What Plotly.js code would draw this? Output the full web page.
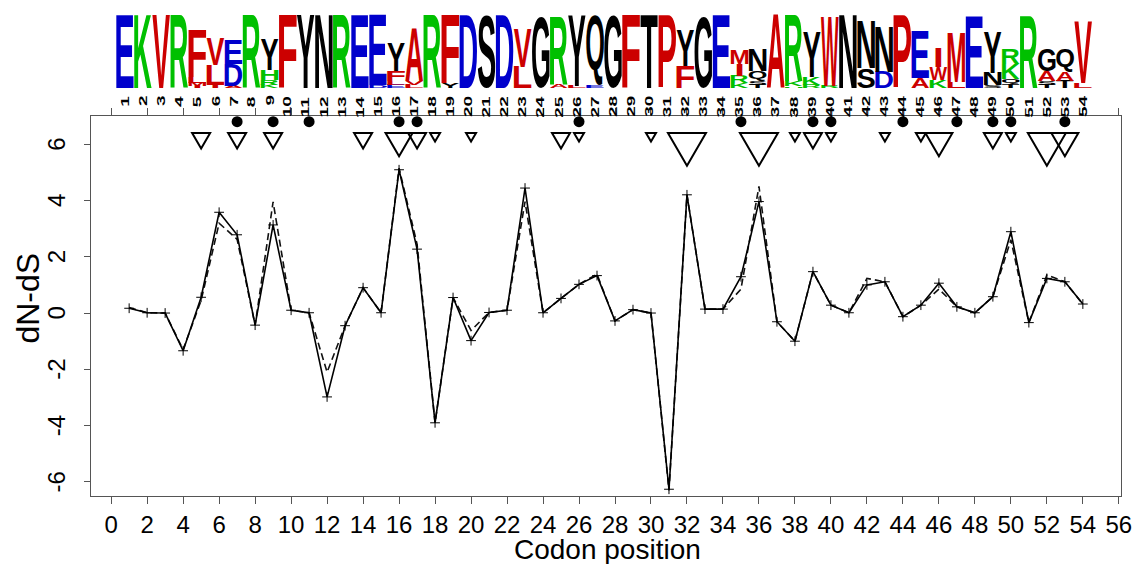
<!DOCTYPE html>
<html><head><meta charset="utf-8">
<script src="https://cdn.plot.ly/plotly-3.0.1.min.js"></script>
<style>html,body{margin:0;padding:0;background:#fff}#plot{width:1136px;height:564px}</style>
</head><body><div id="plot"></div>
<script>
// ---------------- data ----------------
const codons = [1,2,3,4,5,6,7,8,9,10,11,12,13,14,15,16,17,18,19,20,21,22,23,24,25,26,27,28,29,30,31,32,33,34,35,36,37,38,39,40,41,42,43,44,45,46,47,48,49,50,51,52,53,54];
const dnds = [0.17,0.01,0.0,-1.34,0.56,3.58,2.78,-0.43,3.13,0.10,0.01,-2.98,-0.45,0.90,0.01,5.09,2.27,-3.90,0.55,-0.98,0.02,0.10,4.44,0.01,0.52,1.02,1.33,-0.28,0.12,0.0,-6.26,4.20,0.14,0.14,1.29,3.96,-0.31,-1.00,1.47,0.28,0.01,1.00,1.11,-0.13,0.28,1.06,0.22,0.01,0.58,2.89,-0.34,1.23,1.11,0.32];
const dndsAlt = [0.20,0.01,0.0,-1.30,0.45,3.19,2.62,-0.43,3.95,0.10,0.01,-2.10,-0.45,0.90,0.01,5.15,2.45,-3.90,0.55,-0.62,0.02,0.10,3.96,0.01,0.52,1.02,1.38,-0.28,0.12,0.0,-6.30,4.20,0.14,0.14,0.85,4.50,-0.31,-1.00,1.47,0.28,0.01,1.23,1.11,-0.13,0.28,0.85,0.22,0.01,0.58,2.60,-0.34,1.35,1.11,0.32];
const selectedSites = [7,9,11,16,17,26,35,39,40,44,47,49,50,53];
const triSites  = [5,7,9,14,16,17,18,20,25,26,30,32,36,38,39,40,43,45,46,49,50,52,53];
const triLevels = [2,2,2,2,3,2,1,1,2,1,1,4,4,1,2,1,1,1,3,2,1,4,3];
const xTickVals = [0,2,4,6,8,10,12,14,16,18,20,22,24,26,28,30,32,34,36,38,40,42,44,46,48,50,52,54,56];
const yTickVals = [-6,-4,-2,0,2,4,6];
const xTitle = 'Codon position', yTitle = 'dN-dS';
// sequence logo: letters bottom -> top, heights in bits
const logoLetters = ["E","K","V","R","IMLF","ILV","ADE","R","KRHY","F","Y","N","R","E","DE","ELFY","LVA","R","YF","D","S","D","LV","G","AR","LY","EQ","G","F","T","P","FY","G","E","KRIM","TSQN","A","HKR","RKY","RW","N","SN","DN","P","AE","KWI","LM","E","SNY","TQKR","R","TSAG","TAQ","LV"];
const logoBits = [[4.32],[4.32],[4.32],[4.32],[0.12,0.18,0.36,2.78],[0.18,1.18,1.6],[0.12,1.3,1.42],[4.32],[0.18,0.3,0.59,1.78],[4.32],[4.32],[4.32],[4.32],[4.32],[0.15,4.14],[0.18,0.24,0.59,1.66],[0.18,0.24,3.1],[4.32],[0.3,3.96],[4.32],[4.32],[4.32],[1.24,2.25],[4.2],[0.18,4.02],[0.12,4.14],[0.12,4.14],[4.32],[4.32],[4.32],[4.32],[1.3,2.13],[4.2],[4.32],[0.3,0.42,0.7,0.8],[0.18,0.24,0.59,1.3],[4.32],[0.1,0.3,3.95],[0.18,0.47,2.6],[0.12,4.08],[4.32],[1.18,2.78],[0.95,2.66],[4.32],[0.59,2.78],[0.47,0.77,1.12],[0.36,2.9],[4.26],[0.15,0.71,2.43],[0.24,0.3,0.89,0.89],[4.2],[0.18,0.24,0.59,1.3],[0.41,0.53,1.42],[0.3,3.6]];

// ---------------- styles ----------------
const FONT = '"Liberation Sans", Arial, sans-serif';
const AXC = '#555';
const letterColor = ch => ('DE'.includes(ch) ? '#0000CC' : 'KRH'.includes(ch) ? '#00C000' : 'AFILMPVWC'.includes(ch) ? '#CC0000' : '#000000');
const DOT_Y = 6.8, TRI_TOP = 6.4;
const triWidthPx = {1: 10, 2: 18, 3: 27, 4: 38};
const LETTER_FONT = 80;
const CODON_LABEL_STRETCH = 1.65;

const traces = [
  {x: codons, y: dndsAlt, mode: 'lines', line: {color: '#111', width: 1.6, dash: '7px,4px'}, hoverinfo: 'skip'},
  {x: codons, y: dnds, mode: 'lines+markers', line: {color: '#000', width: 1.6},
   marker: {symbol: 'cross-thin-open', size: 7, line: {width: 1, color: '#666'}}, hoverinfo: 'skip'},
  {x: selectedSites, y: selectedSites.map(() => DOT_Y), mode: 'markers', marker: {symbol: 'circle', size: 11, color: '#000'}, cliponaxis: false, hoverinfo: 'skip'},
  {x: codons, y: codons.map(() => 0), xaxis: 'x2', yaxis: 'y2', mode: 'markers', marker: {opacity: 0}, hoverinfo: 'skip'}
];

const shapes = triSites.map((s, i) => {
  const hw = triWidthPx[triLevels[i]] / 2, h = hw * Math.sqrt(3);
  return {type: 'path', xref: 'x', yref: 'y', xsizemode: 'pixel', ysizemode: 'pixel', xanchor: s, yanchor: TRI_TOP,
          path: `M${-hw},0 L${hw},0 L0,${-h} Z`, line: {color: '#000', width: 2}, layer: 'above'};
});

const annotations = [];
const letterMeta = [];   // logo letters (stretched to their cells)
const labelIdx = new Set(); // codon labels (stretched along the text)
logoLetters.forEach((stack, i) => {
  let y0 = 0;
  stack.split('').forEach((ch, j) => {
    const h = logoBits[i][j];
    letterMeta[annotations.length] = {ch, x: codons[i], y0, y1: y0 + h};
    annotations.push({xref: 'x2', yref: 'y2', x: codons[i], y: y0, text: ch, showarrow: false,
      xanchor: 'center', yanchor: 'bottom', borderpad: 0,
      font: {family: '"Liberation Sans"', size: LETTER_FONT, weight: 'bold', color: letterColor(ch)}});
    y0 += h;
  });
});
codons.forEach(c => {
  labelIdx.add(annotations.length);
  annotations.push({xref: 'x2', yref: 'y2', x: c, y: -0.40, text: String(c), textangle: -90,
    showarrow: false, xanchor: 'center', yanchor: 'top', borderpad: 0, font: {family: FONT, size: 11.5, weight: 'bold', color: '#000'}});
});
// y tick labels (rotated, R style)
yTickVals.forEach(v => annotations.push({xref: 'paper', yref: 'y', x: -0.0335, y: v, text: String(v), textangle: -90,
  showarrow: false, xanchor: 'center', yanchor: 'middle', borderpad: 0, font: {family: FONT, size: 24, color: '#000'}}));
// axis titles
annotations.push({xref: 'paper', yref: 'paper', x: 0.5015, y: -0.108, text: xTitle, showarrow: false,
  xanchor: 'center', yanchor: 'middle', borderpad: 0, font: {family: FONT, size: 28, color: '#000'}});
annotations.push({xref: 'paper', yref: 'paper', x: -0.0612, y: 0.400, text: yTitle, textangle: -90, showarrow: false,
  xanchor: 'center', yanchor: 'middle', borderpad: 0, font: {family: FONT, size: 32, color: '#000'}});

const layout = {
  width: 1136, height: 564, margin: {l: 91, r: 15, t: 0, b: 68}, showlegend: false,
  paper_bgcolor: '#fff', plot_bgcolor: '#fff', font: {family: FONT, color: '#000'},
  xaxis: {domain: [0, 1], anchor: 'y', range: [-1.12, 56.12], tickmode: 'array', tickvals: xTickVals,
    ticktext: xTickVals.map(String), ticks: 'outside', ticklen: 7, tickcolor: AXC, tickwidth: 1,
    showline: true, linecolor: AXC, linewidth: 1, mirror: 'ticks', showgrid: false, zeroline: false,
    tickfont: {size: 24, family: FONT}, automargin: false, ticklabelstandoff: 0},
  yaxis: {domain: [0, 380/496], anchor: 'x', range: [-6.5, 7.0], tickmode: 'array', tickvals: yTickVals,
    showticklabels: false, ticks: 'outside', ticklen: 6, tickcolor: AXC,
    showline: true, linecolor: AXC, linewidth: 1, mirror: true, showgrid: false, zeroline: false, automargin: false},
  xaxis2: {domain: [0, 1], anchor: 'y2', range: [-0.881, 56.10], visible: false, fixedrange: true},
  yaxis2: {domain: [380/496, 1], anchor: 'x2', range: [-1.657, 5.207], visible: false, fixedrange: true},
  shapes, annotations
};

const gd = document.getElementById('plot');
Plotly.newPlot(gd, traces, layout, {staticPlot: true, displayModeBar: false}).then(postProcess);

function postProcess() {
  const fl = gd._fullLayout, xa = fl.xaxis2, ya = fl.yaxis2;
  const colW = Math.abs(xa.c2p(1) - xa.c2p(0));
  const ctx = document.createElement('canvas').getContext('2d');
  ctx.font = `bold ${LETTER_FONT}px "Liberation Sans"`;
  gd.querySelectorAll('g.annotation').forEach((g, k) => {
    const idx = g.hasAttribute('data-index') ? +g.getAttribute('data-index') : k;
    const t = g.querySelector('text.annotation-text');
    if (!t) return;
    if (labelIdx.has(idx)) {
      // elongate codon numbers along the text direction, keeping their top end fixed
      const bb = t.getBBox();
      const R = bb.x + bb.width, cy = bb.y + bb.height / 2, k2 = CODON_LABEL_STRETCH;
      t.setAttribute('transform', `translate(${R} ${cy}) scale(${k2} 1) translate(${-R} ${-cy})`);
      return;
    }
    const meta = letterMeta[idx];
    if (!meta) return;
    // stretch each logo letter so its glyph fills its stack cell
    const m = ctx.measureText(meta.ch);
    const bb = t.getBBox();
    const base = bb.y + m.fontBoundingBoxAscent;
    const inkL = bb.x - m.actualBoundingBoxLeft, inkR = bb.x + m.actualBoundingBoxRight;
    const inkT = base - m.actualBoundingBoxAscent, inkB = base + m.actualBoundingBoxDescent;
    const cx = xa._offset + xa.c2p(meta.x);
    const half = colW * (meta.ch === 'I' ? 0.16 : 0.49);
    const tL = cx - half, tR = cx + half;
    const tT = ya._offset + ya.c2p(meta.y1), tB = ya._offset + ya.c2p(meta.y0);
    const sx = (tR - tL) / (inkR - inkL), sy = (tB - tT) / (inkB - inkT);
    const P = t.parentNode.getCTM();
    const Pm = new DOMMatrix([P.a, P.b, P.c, P.d, P.e, P.f]);
    const M = new DOMMatrix().translate(tL, tT).scale(sx, sy).translate(-inkL, -inkT);
    const T = Pm.inverse().multiply(M);
    t.setAttribute('transform', `matrix(${T.a} ${T.b} ${T.c} ${T.d} ${T.e} ${T.f})`);
  });
}
</script></body></html>
